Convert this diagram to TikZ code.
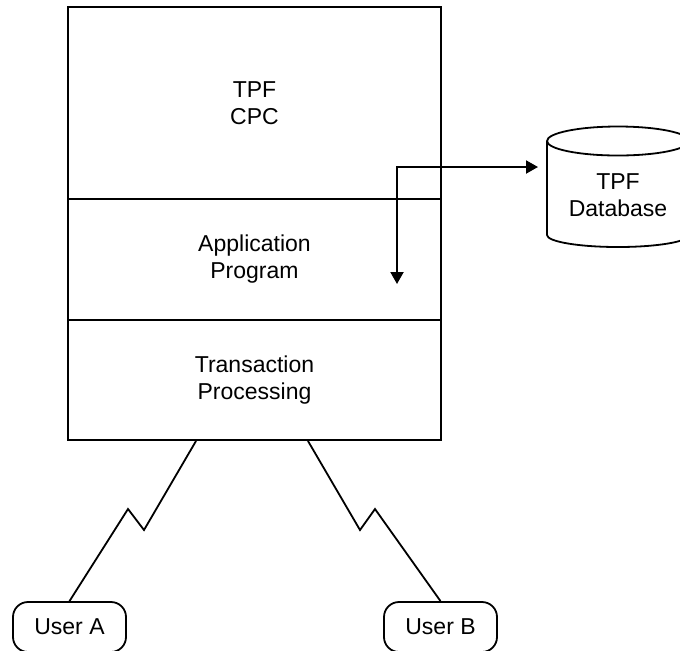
\documentclass[tikz,border=0pt]{standalone}
\usepackage{fontspec}
\setmainfont{Liberation Sans}
\usetikzlibrary{calc,arrows.meta}

\begin{document}
\begin{tikzpicture}[x=0.5pt,y=-0.5pt,
  every node/.style={font=\fontsize{11.5}{13.5}\selectfont,align=center},
  layer/.style={draw,line width=1pt,minimum width=186.5pt,inner sep=0pt},
  user/.style={draw,line width=0.9pt,rounded corners=7.5pt,
    minimum width=56.5pt,minimum height=25pt},
  zigzag/.style={line width=0.9pt},
  link/.style={line width=1pt,
    {Triangle[length=6pt,width=6.5pt]}-{Triangle[length=6pt,width=6.5pt]}}]
  \useasboundingbox (0,0) rectangle (680,650);
  \clip (0,0) rectangle (680,650);

  % the host
  \node[layer,minimum height=96pt] (cpc) at (254.5,103) {TPF\\CPC};
  \node[layer,minimum height=60.5pt] (app) at (254.5,259.5)
    {Application\\Program};
  \node[layer,minimum height=60pt] (tp) at (254.5,380)
    {Transaction\\Processing};

  % database
  \node (db) at (618,195) {TPF\\Database};
  \draw[line width=0.9pt] (547,141) -- (547,235)
    arc[start angle=180,end angle=360,x radius=35.5pt,y radius=6pt]
    -- (689,141);
  \draw[line width=0.9pt] (618,141) ellipse[x radius=35.5pt,y radius=7.25pt];

  \coordinate (dbin) at (538,167);
  \coordinate (apptip) at (397,284);
  \draw[link] (apptip) |- (dbin);

  % users
  \node[user] (usera) at (69.5,627) {User A};
  \node[user] (userb) at (440.5,627) {User B};

  \draw[zigzag] (tp.south west) ++(129,0) -- ++(-52,89) -- ++(-16,-21)
    -- (usera.north);
  \draw[zigzag] (tp.south west) ++(241,0) -- ++(52,89) -- ++(15,-21)
    -- (userb.north);
\end{tikzpicture}
\end{document}
